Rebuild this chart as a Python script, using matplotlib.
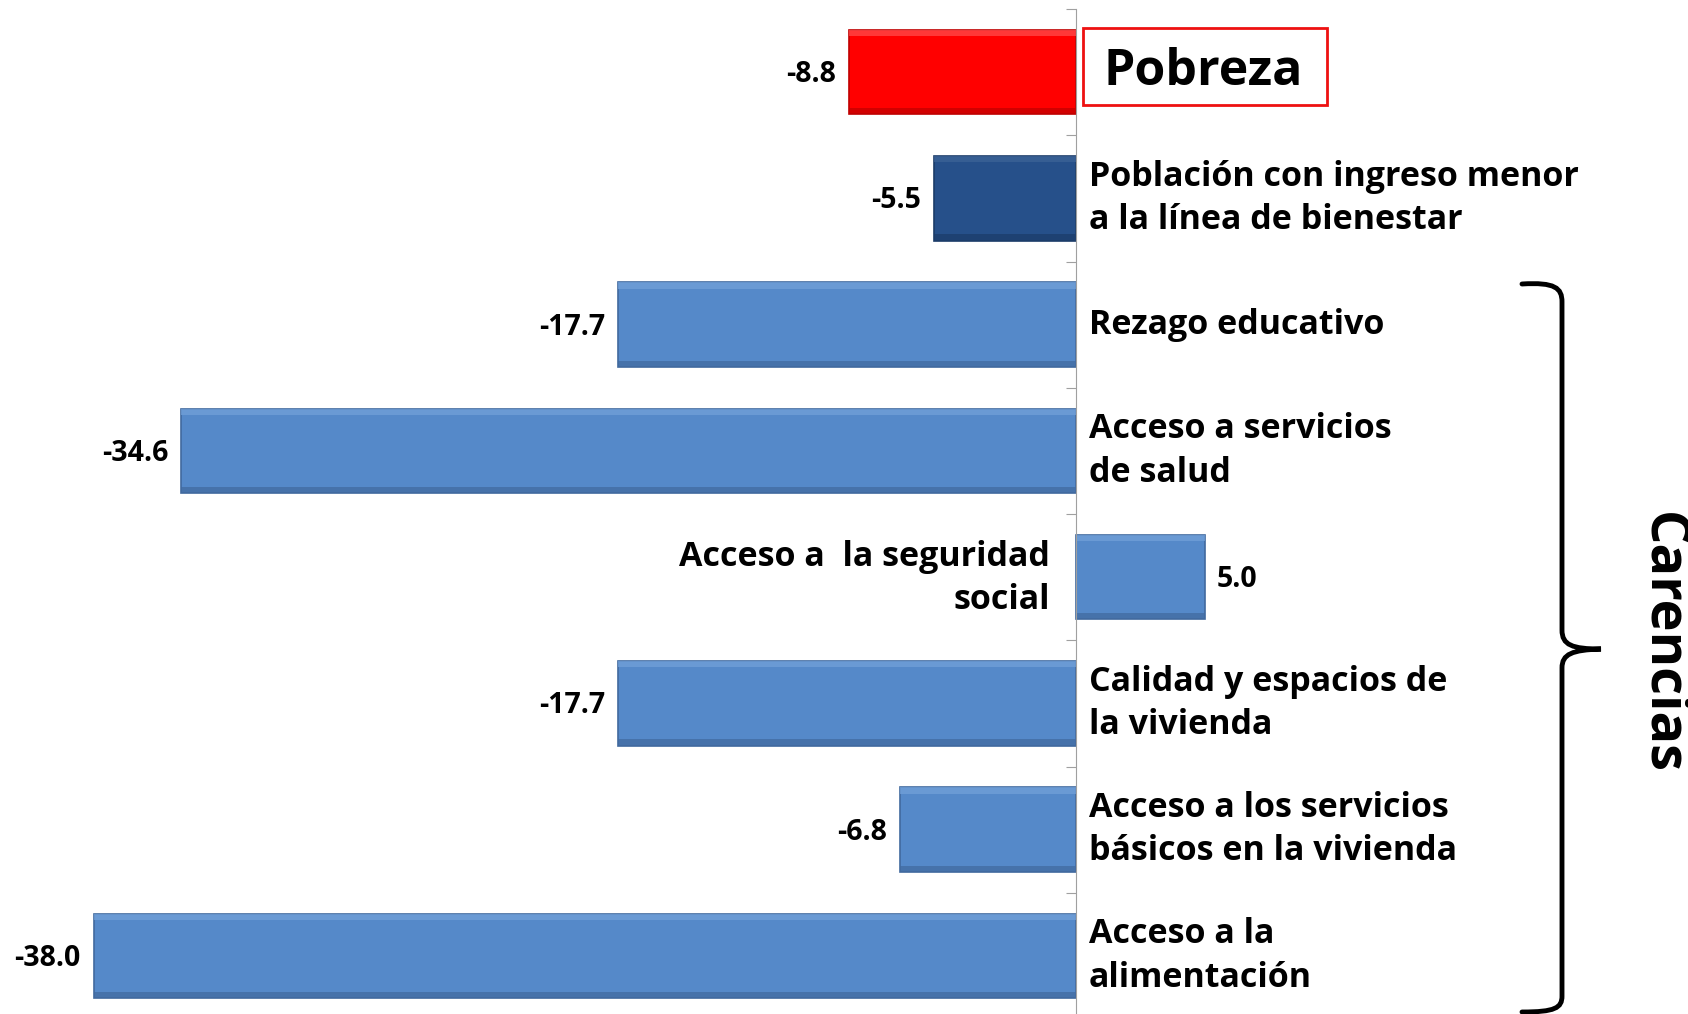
import matplotlib
matplotlib.use("Agg")
import matplotlib.pyplot as plt
from matplotlib.patches import Rectangle, PathPatch
from matplotlib.path import Path

plt.rcParams['font.family'] = ['Open Sans', 'DejaVu Sans']

# data
categories = [
    "Pobreza",
    "Población con ingreso menor\na la línea de bienestar",
    "Rezago educativo",
    "Acceso a servicios\nde salud",
    "Acceso a  la seguridad\nsocial",
    "Calidad y espacios de\nla vivienda",
    "Acceso a los servicios\nbásicos en la vivienda",
    "Acceso a la\nalimentación",
]
values = [-8.8, -5.5, -17.7, -34.6, 5.0, -17.7, -6.8, -38.0]
colors = ["#FF0000", "#26508A"] + ["#5589C9"] * 6
hi_colors = ["#FF5050", "#3E6498"] + ["#73A2DA"] * 6
lo_colors = ["#C00000", "#1B3C68"] + ["#41699E"] * 6

W, H = 1688, 1014
fig = plt.figure(figsize=(W / 100, H / 100), dpi=100)
ax = fig.add_axes([0, -5 / H, 1, 1010 / H])

ypos = list(range(len(values)))
bh = 0.67
ax.barh(ypos, values, height=bh, color=colors, edgecolor=lo_colors, linewidth=1.2, zorder=2)
# bevel: light strip on top, dark strip at bottom
ax.barh([y - bh / 2 + 0.025 for y in ypos], values, height=0.05, color=hi_colors, linewidth=0, zorder=3, alpha=0.7)
ax.barh([y + bh / 2 - 0.025 for y in ypos], values, height=0.05, color=lo_colors, linewidth=0, zorder=3, alpha=0.7)

ax.set_ylim(len(values) - 0.5, -0.5)
ax.set_xlim(-41.62, 23.67)

for s in ['top', 'right', 'bottom']:
    ax.spines[s].set_visible(False)
ax.spines['left'].set_position(('data', 0))
ax.spines['left'].set_color('#A0A0A0')
ax.spines['left'].set_zorder(4)
ax.set_xticks([])
ax.set_yticks([y - 0.5 for y in ypos])
ax.tick_params(axis='y', direction='out', length=7, color='#A0A0A0', labelleft=False)

# value labels
for y, v in zip(ypos, values):
    if v < 0:
        ax.text(v - 0.5, y + 0.02, f"{v:.1f}", ha='right', va='center', fontsize=20.5, fontweight='bold')
    else:
        ax.text(v + 0.45, y + 0.02, f"{v:.1f}", ha='left', va='center', fontsize=20.5, fontweight='bold')

# category labels
for y, (lab, v) in enumerate(zip(categories, values)):
    if y == 0:
        ax.text(1.05, y + 0.0, lab, ha='left', va='center', fontsize=36, fontweight='bold')
        ax.add_patch(Rectangle((0.27, -0.35), 9.44, 0.61, fill=False, edgecolor='#EE1111',
                               linewidth=2, clip_on=False, zorder=5))
    elif v > 0:
        ax.text(-1.0, y + 0.01, lab, ha='right', va='center', fontsize=24.5, fontweight='bold', linespacing=1.36)
    else:
        ax.text(0.5, y, lab, ha='left', va='center', fontsize=24.5, fontweight='bold', linespacing=1.36)

# brace for "Carencias"
def fp(x, y):
    return (x / W, 1 - y / H)

verts = [fp(1522, 284), fp(1555, 282), fp(1562, 288), fp(1562, 302),
         fp(1562, 630),
         fp(1562, 645), fp(1572, 649), fp(1601, 649),
         fp(1572, 650), fp(1562, 654), fp(1562, 668),
         fp(1562, 996),
         fp(1562, 1008), fp(1555, 1012), fp(1522, 1012)]
codes = [Path.MOVETO, Path.CURVE4, Path.CURVE4, Path.CURVE4,
         Path.LINETO,
         Path.CURVE4, Path.CURVE4, Path.CURVE4,
         Path.CURVE4, Path.CURVE4, Path.CURVE4,
         Path.LINETO,
         Path.CURVE4, Path.CURVE4, Path.CURVE4]
fig.patches.append(PathPatch(Path(verts, codes), transform=fig.transFigure, fill=False,
                             edgecolor='black', linewidth=3.5, capstyle='round'))

fig.text(1662 / W, 1 - 643 / H, "Carencias", rotation=-90, ha='center', va='center',
         fontsize=39, fontweight='bold')

fig.savefig("out.png", dpi=100)
